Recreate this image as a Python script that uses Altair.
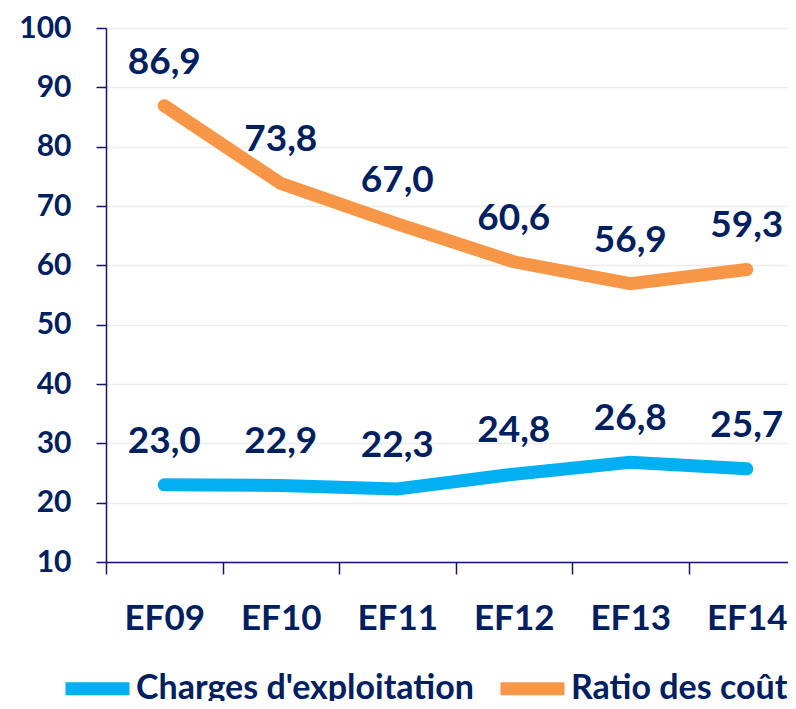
import altair as alt
import pandas as pd

years = ["EF09", "EF10", "EF11", "EF12", "EF13", "EF14"]
charges = [23.0, 22.9, 22.3, 24.8, 26.8, 25.7]
ratio = [86.9, 73.8, 67.0, 60.6, 56.9, 59.3]
series = ["Charges d'exploitation", "Ratio des coûts"]
colors = ["#00B0F0", "#F79646"]
y_ticks = [10, 20, 30, 40, 50, 60, 70, 80, 90, 100]

rows = []
for s, vals in zip(series, [charges, ratio]):
    for yr, v in zip(years, vals):
        rows.append({"annee": yr, "valeur": v, "serie": s,
                     "etiquette": f"{v:.1f}".replace(".", ",")})
df = pd.DataFrame(rows)

FONT = "Lato"
NAVY = "#002060"
AXIS = "#14146E"

x = alt.X(
    "annee:N", sort=years, bandPosition=0.5,
    scale=alt.Scale(type="band", paddingInner=0, paddingOuter=0, range=[0, 699]),
    axis=alt.Axis(title=None, labelAngle=0, tickBand="extent", tickSize=12,
                  labelPadding=27, labelFont=FONT, labelFontSize=35,
                  labelFontWeight="bold", labelColor=NAVY, domainColor=AXIS,
                  domainWidth=1.5, tickColor=AXIS, tickWidth=1.5, grid=False),
)
y = alt.Y(
    "valeur:Q",
    scale=alt.Scale(domain=[10, 100], nice=False, zero=False),
    axis=alt.Axis(title=None, values=y_ticks, tickSize=10, labelPadding=25,
                  labelFont=FONT, labelFontSize=30, labelFontWeight="bold",
                  labelColor=NAVY, domainColor=AXIS, domainWidth=1.5,
                  tickColor=AXIS, tickWidth=1.5, grid=True,
                  gridColor="#ECECEC", gridWidth=1.5),
)
color = alt.Color(
    "serie:N", sort=series,
    scale=alt.Scale(domain=series, range=colors),
    legend=alt.Legend(title=None, orient="none", legendX=-47, legendY=622,
                      padding=0, direction="horizontal", symbolType="stroke",
                      symbolSize=4096, symbolStrokeWidth=13,
                      labelFont=FONT, labelFontSize=34, labelFontWeight="bold",
                      labelColor=NAVY, labelOffset=0, columnPadding=0,
                      labelLimit=600),
)

base = alt.Chart(df)
lines = base.mark_line(strokeWidth=13, strokeCap="round", strokeJoin="miter").encode(
    x=x, y=y, color=color
)
labels = base.mark_text(dy=-43, fontSize=37, font=FONT, fontWeight="bold",
                        color=NAVY).encode(
    x=x, y=y, text="etiquette:N"
)

chart = (
    alt.layer(lines, labels)
    .properties(width=682, height=534,
                autosize=alt.AutoSizeParams(type="none"),
                padding={"left": 98, "top": 20, "right": 0, "bottom": 139},
                background="white")
    .configure_view(strokeWidth=0)
)

chart.save("out.html", embed_options={"renderer": "svg", "actions": False})
